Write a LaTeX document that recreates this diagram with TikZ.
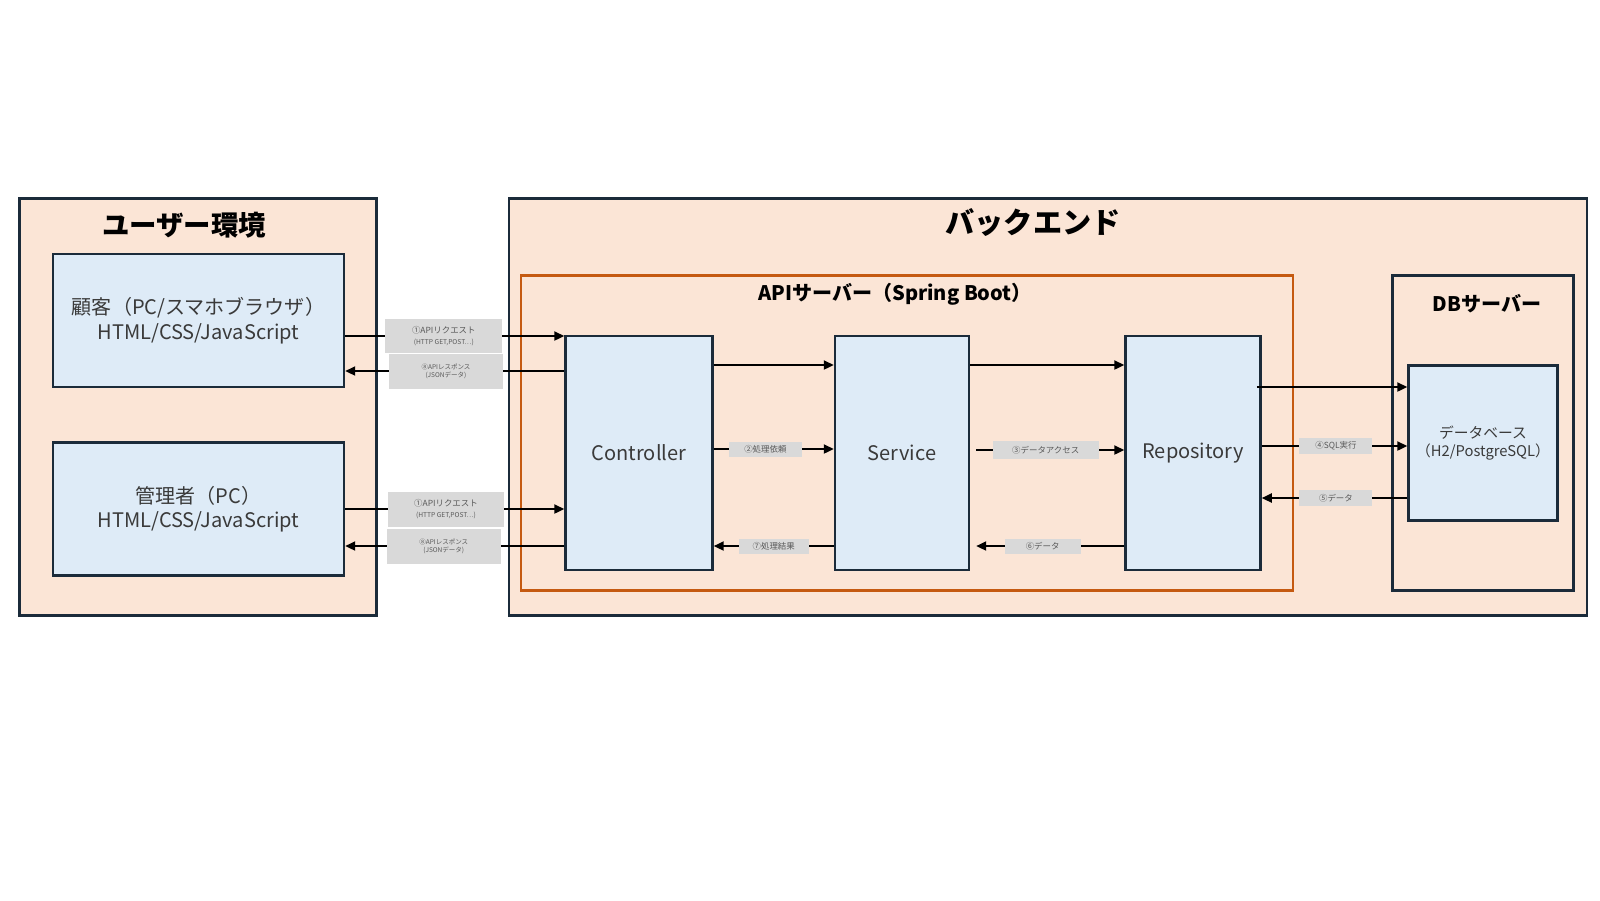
\documentclass[tikz,border=0pt]{standalone}
\usepackage{fontspec}
\setmainfont{Noto Sans CJK JP}
\usetikzlibrary{arrows.meta}
\definecolor{peach}{HTML}{FBE5D6}
\definecolor{paleblue}{HTML}{DEEBF7}
\definecolor{navy}{HTML}{1B2B3A}
\definecolor{rust}{HTML}{C55A11}
\definecolor{lblgray}{HTML}{D9D9D9}
\definecolor{lbltext}{HTML}{595959}
\definecolor{boxtext}{HTML}{3A3A3A}
\tikzset{
  area_n/.style = {draw=navy, fill=peach, line width=0.7pt, inner sep=0pt},
  comp_n/.style = {draw=navy, fill=paleblue, line width=0.7pt, inner sep=0pt, align=center, text=boxtext, font=\fontsize{5.7}{7}\selectfont},
  title_n/.style = {font=\bfseries\fontsize{7.8}{9}\selectfont},
  sub_title/.style = {font=\bfseries\fontsize{5.7}{7}\selectfont},
  flow/.style = {line width=0.6pt, -{Triangle[length=1mm,width=0.9mm]}},
  lbl_s/.style = {fill=lblgray, text=lbltext, inner sep=0pt, align=center, font=\fontsize{2.4}{2.9}\selectfont},
  lbl_t/.style = {lbl_s, font=\fontsize{1.85}{2.3}\selectfont}
}
\begin{document}
\begin{tikzpicture}
	\useasboundingbox[fill=white] (0,0) rectangle (16,-9);
	\node[area_n, minimum width=3.57cm, minimum height=4.17cm] (userenv) at (1.98,-4.07) {};
	\node[area_n, minimum width=10.78cm, minimum height=4.17cm] (backend) at (10.48,-4.07) {};
	\node[title_n] (userenv_t) at (1.84,-2.255) {ユーザー環境};
	\node[title_n, font=\bfseries\fontsize{8.3}{9.5}\selectfont] (backend_t) at (10.33,-2.224) {バックエンド};
	\node[draw=rust, line width=0.7pt, minimum width=7.72cm, minimum height=3.15cm] (api) at (9.07,-4.33) {};
	\node[sub_title] (api_t) at (8.95,-2.94) {APIサーバー（Spring Boot）};
	\node[draw=navy, line width=0.7pt, minimum width=1.81cm, minimum height=3.15cm] (dbsrv) at (14.83,-4.33) {};
	\node[sub_title] (dbsrv_t) at (14.87,-3.04) {DBサーバー};
	\node[comp_n, minimum width=2.91cm, minimum height=1.33cm] (kyaku) at (1.985,-3.204) {顧客（PC/スマホブラウザ）\\HTML/CSS/JavaScript};
	\node[comp_n, minimum width=2.91cm, minimum height=1.33cm] (kanri) at (1.985,-5.092) {管理者（PC）\\HTML/CSS/JavaScript};
	\node[comp_n, minimum width=1.47cm, minimum height=2.34cm] (ctrl) at (6.39,-4.53) {Controller};
	\node[comp_n, minimum width=1.34cm, minimum height=2.34cm] (svc) at (9.02,-4.53) {Service};
	\node[comp_n, minimum width=1.35cm, minimum height=2.34cm] (repo) at (11.93,-4.53) {Repository};
	\node[comp_n, minimum width=1.49cm, minimum height=1.55cm, font=\fontsize{4.2}{4.9}\selectfont] (db) at (14.83,-4.43) {データベース\\（H2/PostgreSQL）};

	\draw[flow] (kyaku.east |- 0,-3.36) -- node[lbl_s, pos=0.45, minimum width=1.17cm, minimum height=0.34cm] {①APIリクエスト\\{\fontsize{1.9}{2.3}\selectfont (HTTP GET,POST…)}} (ctrl.west |- 0,-3.36);
	\draw[flow] (ctrl.west |- 0,-3.71) -- node[lbl_t, pos=0.54, minimum width=1.14cm, minimum height=0.35cm] {⑧APIレスポンス\\(JSONデータ)} (kyaku.east |- 0,-3.71);
	\draw[flow] (kanri.east |- 0,-5.09) -- node[lbl_s, pos=0.46, minimum width=1.16cm, minimum height=0.35cm] {①APIリクエスト\\{\fontsize{1.9}{2.3}\selectfont (HTTP GET,POST…)}} (ctrl.west |- 0,-5.09);
	\draw[flow] (ctrl.west |- 0,-5.46) -- node[lbl_t, pos=0.55, minimum width=1.14cm, minimum height=0.35cm] {⑧APIレスポンス\\(JSONデータ)} (kanri.east |- 0,-5.46);

	\draw[flow] (ctrl.east |- 0,-3.65) -- (svc.west |- 0,-3.65);
	\draw[flow] (svc.east |- 0,-3.65) -- (repo.west |- 0,-3.65);
	\draw[flow] (ctrl.east |- 0,-4.49) -- node[lbl_s, pos=0.43, minimum width=0.73cm, minimum height=0.15cm] {②処理依頼} (svc.west |- 0,-4.49);
	\draw[flow, shorten <=0.06cm] (svc.east |- 0,-4.50) -- node[lbl_s, pos=0.49, minimum width=1.06cm, minimum height=0.18cm] {③データアクセス} (repo.west |- 0,-4.50);
	\draw[flow] (svc.west |- 0,-5.46) -- node[lbl_s, pos=0.5, minimum width=0.70cm, minimum height=0.15cm] {⑦処理結果} (ctrl.east |- 0,-5.46);
	\draw[flow, shorten >=0.06cm] (repo.west |- 0,-5.46) -- node[lbl_s, pos=0.53, minimum width=0.76cm, minimum height=0.15cm] {⑥データ} (svc.east |- 0,-5.46);

	\draw[flow, shorten <=-0.05cm] (repo.east |- 0,-3.87) -- (db.west |- 0,-3.87);
	\draw[flow] (repo.east |- 0,-4.46) -- node[lbl_s, pos=0.51, minimum width=0.73cm, minimum height=0.16cm] {④SQL実行} (db.west |- 0,-4.46);
	\draw[flow] (db.west |- 0,-4.98) -- node[lbl_s, pos=0.49, minimum width=0.73cm, minimum height=0.16cm] {⑤データ} (repo.east |- 0,-4.98);
\end{tikzpicture}
\end{document}
